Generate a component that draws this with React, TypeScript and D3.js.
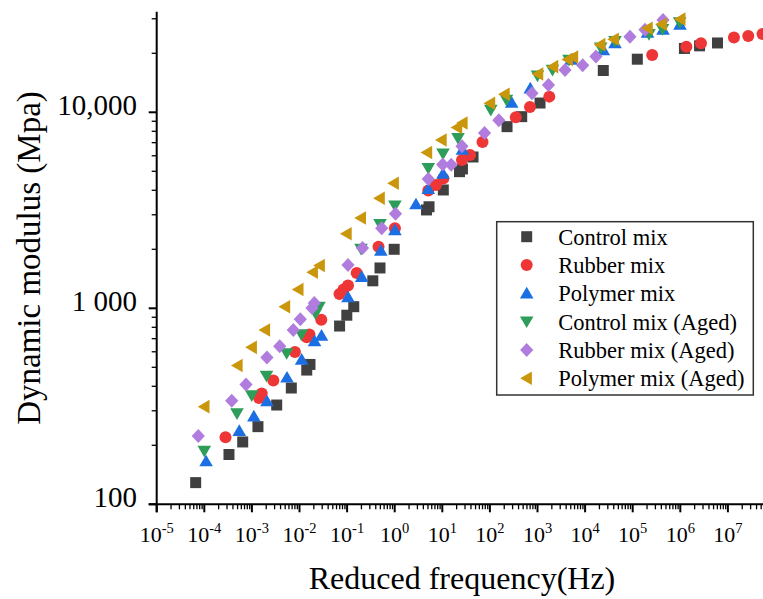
import React from "react";
import * as d3 from "d3";

// [frequency Hz, dynamic modulus MPa]
const controlMix: [number, number][] = [
  [6.59e-5, 129], [3.3e-4, 179.5], [6.41e-4, 208], [1.34e-3, 249], [3.32e-3, 321], [6.73e-3, 392],
  [1.42e-2, 484], [1.66e-2, 517], [6.95e-2, 812], [9.86e-2, 922], [0.138, 1019], [0.347, 1381],
  [0.491, 1606], [0.975, 2000], [4.66, 3175], [5.26, 3296], [10.5, 4015], [23.0, 4977], [26.5, 5140],
  [44.2, 5914], [229, 8447], [466, 9500], [1130, 11150], [24100, 16340], [125000, 18660],
  [1.22e6, 21170], [2.54e6, 21830], [6.05e6, 22580],
];
const rubberMix: [number, number][] = [
  [2.79e-4, 220], [1.41e-3, 349], [1.61e-3, 368], [2.82e-3, 428], [8.03e-3, 598], [1.42e-2, 711],
  [1.62e-2, 735], [2.87e-2, 875], [6.92e-2, 1183], [8.39e-2, 1247], [0.1045, 1307], [0.159, 1514],
  [0.457, 2061], [1.01, 2559], [5.08, 3990], [7.38, 4256], [10.5, 4593], [25.9, 5710], [38.2, 6053],
  [70.0, 7050], [350, 9424], [695, 10640], [1770, 12020], [257000, 19600], [1.34e6, 21620],
  [2.72e6, 22490], [1.34e7, 24080], [2.68e7, 24490], [5.33e7, 25100],
];
const polymerMix: [number, number][] = [
  [1.09e-4, 166], [5.43e-4, 237], [1.1e-3, 281], [2.07e-3, 336], [5.46e-3, 444], [1.11e-2, 548],
  [2.07e-2, 681], [2.9e-2, 726], [0.1045, 1142], [0.203, 1449], [0.511, 1972], [1.01, 2509],
  [2.8, 3398], [5.08, 4073], [10.35, 4873], [26.5, 6459], [287, 11220], [706, 13250], [5060, 18590],
  [24100, 20790], [42500, 22580], [205000, 25540], [434000, 26440], [986000, 28050],
];
const controlAged: [number, number][] = [
  [1.0e-4, 187], [4.86e-4, 291], [9.91e-4, 359], [2.03e-3, 452], [5.38e-3, 589], [1.09e-2, 735],
  [2.17e-2, 942], [2.57e-2, 1016], [0.196, 2008], [0.491, 2683], [1.01, 3333], [5.08, 5181],
  [10.35, 6147], [21.4, 7367], [104.4, 10270], [223, 11560], [1000, 15350], [2065, 16430],
  [4590, 18490], [21300, 21370], [42500, 23030], [220000, 25010], [423000, 26550], [971000, 28710],
];
const rubberAged: [number, number][] = [
  [7.48e-5, 223], [3.77e-4, 338], [7.52e-4, 408], [2.07e-3, 561], [3.84e-3, 640], [7.41e-3, 775],
  [1.04e-2, 879], [1.83e-2, 1004], [2.05e-2, 1064], [0.1045, 1663], [0.211, 2031], [0.533, 2559],
  [1.04, 3038], [5.08, 4568], [10.2, 5415], [15.4, 5400], [25.9, 6710], [77.1, 7840], [154, 9100],
  [766, 12500], [1700, 13780], [3790, 16430], [8910, 17380], [16900, 19260], [87700, 24310],
  [181000, 26360], [434000, 29580],
];
const polymerAged: [number, number][] = [
  [1.0e-4, 315], [4.97e-4, 511], [9.91e-4, 632], [1.88e-3, 775], [4.95e-3, 1019], [9.44e-3, 1247],
  [1.9e-2, 1528], [2.65e-2, 1653], [9.7e-2, 2399], [0.194, 2890], [0.482, 3641], [0.953, 4344],
  [4.77, 6237], [9.62, 7221], [20.4, 8360], [26.5, 8817], [100.5, 11120], [203, 12370], [1026, 15680],
  [2120, 17090], [4330, 18580], [5570, 19150], [20800, 22130], [39900, 23600], [205000, 26830],
  [406000, 28140], [1.0e6, 29860],
];

const seriesNames = [
  "Control mix", "Rubber mix", "Polymer mix",
  "Control mix (Aged)", "Rubber mix (Aged)", "Polymer mix (Aged)",
];
const seriesData = [controlMix, rubberMix, polymerMix, controlAged, rubberAged, polymerAged];
const seriesColors = ["#404040", "#EE3636", "#1C6FE3", "#2E9D5A", "#B07CDE", "#CA960C"];
const seriesShapes = ["square", "circle", "up", "down", "diamond", "left"];

const xMajorExps = [-5, -4, -3, -2, -1, 0, 1, 2, 3, 4, 5, 6, 7];
const yMajorTicks = [100, 1000, 10000];
const yTickLabels = ["100", "1 000", "10,000"];

const FONT = "'Liberation Serif', 'Times New Roman', serif";

function shapePath(shape: string): string {
  switch (shape) {
    case "square":
      return "M-5.5,-5.5h11v11h-11Z";
    case "circle":
      return "M6,0A6,6 0 1,1 -6,0A6,6 0 1,1 6,0Z";
    case "up":
      return "M0,-6.5L6.8,5.2L-6.8,5.2Z";
    case "down":
      return "M0,6.5L6.8,-5.2L-6.8,-5.2Z";
    case "diamond":
      return "M0,-7L6.6,0L0,7L-6.6,0Z";
    case "left":
    default:
      return "M-6.5,0L5.2,-6.8L5.2,6.8Z";
  }
}

export default function App() {
  const W = 763;
  const H = 599;
  const x = d3.scaleLog().domain([1e-5, 1e8]).range([156.7, 156.7 + 13 * 47.6]);
  const y = d3.scaleLog().domain([100, 32600]).range([504.3, 11.7]);
  const axisY = 504.3;
  const axisX = 156.7;

  const xMinor: number[] = [];
  for (let e = -5; e <= 7; e++) {
    for (let m = 2; m <= 9; m++) xMinor.push(m * Math.pow(10, e));
  }
  const yMinor: number[] = [];
  for (let e = 2; e <= 4; e++) {
    for (let m = 2; m <= 9; m++) {
      const v = m * Math.pow(10, e);
      if (v <= 32600) yMinor.push(v);
    }
  }

  const legendX = 496.7;
  const legendY = 221.7;
  const legendW = 256.6;
  const legendH = 173.3;
  const rowH = 28.3;

  return (
    <svg
      width={W}
      height={H}
      viewBox={`0 0 ${W} ${H}`}
      style={{ position: "absolute", left: 0, top: 0, background: "#fff" }}
      fontFamily={FONT}
    >
      <rect x={0} y={0} width={W} height={H} fill="#fff" />
      {/* axes lines */}
      <line x1={axisX} x2={axisX} y1={11.7} y2={axisY + 8} stroke="#000" strokeWidth={2} />
      <line x1={axisX - 8} x2={W} y1={axisY} y2={axisY} stroke="#000" strokeWidth={2} />

      {/* x ticks */}
      {xMajorExps.map((e) => (
        <line key={"xm" + e} x1={x(Math.pow(10, e))} x2={x(Math.pow(10, e))} y1={axisY} y2={axisY + 8} stroke="#000" strokeWidth={2} />
      ))}
      {xMinor.map((v, i) => (
        <line key={"xn" + i} x1={x(v)} x2={x(v)} y1={axisY} y2={axisY + 5} stroke="#000" strokeWidth={1.3} />
      ))}
      {xMajorExps.map((e) => (
        <text key={"xl" + e} x={x(Math.pow(10, e))} y={541.5} textAnchor="middle" fontSize={22} fill="#000">
          10<tspan fontSize={14.5} dy={-9}>{e}</tspan>
        </text>
      ))}

      {/* y ticks */}
      {yMajorTicks.map((v) => (
        <line key={"ym" + v} x1={axisX - 8} x2={axisX} y1={y(v)} y2={y(v)} stroke="#000" strokeWidth={2} />
      ))}
      {yMinor.map((v, i) => (
        <line key={"yn" + i} x1={axisX - 5} x2={axisX} y1={y(v)} y2={y(v)} stroke="#000" strokeWidth={1.3} />
      ))}
      {yMajorTicks.map((v, i) => (
        <text key={"yl" + v} x={137} y={y(v) + 3} textAnchor="end" fontSize={29} fill="#000">
          {yTickLabels[i]}
        </text>
      ))}

      {/* axis titles */}
      <text x={462} y={589} textAnchor="middle" fontSize={32} fill="#000">
        Reduced frequency(Hz)
      </text>
      <text transform="translate(40,258) rotate(-90)" textAnchor="middle" fontSize={33} fill="#000">
        Dynamic modulus (Mpa)
      </text>

      {/* data */}
      {seriesData.map((data, si) => (
        <g key={"s" + si} fill={seriesColors[si]}>
          {data.map(([f, E], i) => (
            <path key={i} d={shapePath(seriesShapes[si])} transform={`translate(${x(f)},${y(E)})`} />
          ))}
        </g>
      ))}

      {/* legend */}
      <rect x={legendX} y={legendY} width={legendW} height={legendH} fill="#fff" stroke="#333" strokeWidth={1.5} />
      {seriesNames.map((name, i) => {
        const cy = legendY + 15 + i * rowH;
        return (
          <g key={"lg" + i}>
            <path d={shapePath(seriesShapes[i])} transform={`translate(526.7,${cy})`} fill={seriesColors[i]} />
            <text x={558.3} y={cy + 8} fontSize={22.5} fill="#000">
              {name}
            </text>
          </g>
        );
      })}
    </svg>
  );
}
